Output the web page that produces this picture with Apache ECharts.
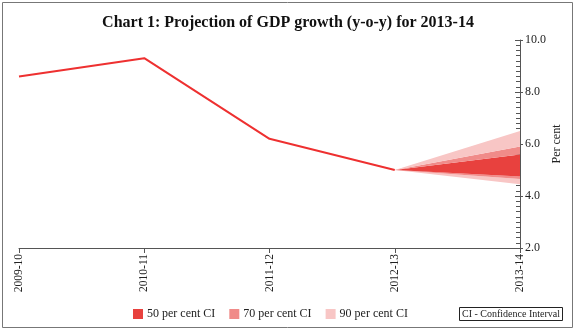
<!DOCTYPE html>
<html><head><meta charset="utf-8">
<script src="https://cdn.jsdelivr.net/npm/echarts@6/dist/echarts.min.js"></script>
<style>html,body{margin:0;padding:0;background:#fff}#c{width:576px;height:334px}</style>
</head><body><div id="c"></div>
<script>
const categories = ['2009-10','2010-11','2011-12','2012-13','2013-14'];
const gdpGrowth = [8.6, 9.3, 6.2, 5.0, null];
// fan chart bounds at 2012-13 (start) and 2013-14 (projection)
const ci90Lower = [null, null, null, 5.0, 4.45];
const ci70Lower = [null, null, null, 5.0, 4.65];
const ci50Lower = [null, null, null, 5.0, 4.75];
const ci50Upper = [null, null, null, 5.0, 5.6];
const ci70Upper = [null, null, null, 5.0, 5.9];
const ci90Upper = [null, null, null, 5.0, 6.5];
const yTicks = [2, 4, 6, 8, 10];

const diff = (a, b) => a.map((v, i) => v == null ? null : +(v - b[i]).toFixed(4));
const FONT = 'Liberation Serif';
const C50 = '#e8413e', C70 = '#f08b89', C90 = '#f8c6c5';

const chart = echarts.init(document.getElementById('c'));
const band = (name, data, color) => ({
  name, type: 'line', stack: 'fan', data, symbol: 'none',
  lineStyle: { width: 0, opacity: 0 }, areaStyle: { color, opacity: 1 },
  itemStyle: { color }, z: 1
});
chart.setOption({
  animation: false,
  title: { text: 'Chart 1: Projection of GDP growth (y-o-y) for 2013-14', left: 'center', top: 10,
    textStyle: { fontFamily: FONT, fontSize: 16, fontWeight: 'bold', color: '#111' } },
  grid: { left: 19, right: 56, top: 40, bottom: 86 },
  legend: {
    left: 133, top: 308, padding: 0, itemWidth: 10, itemHeight: 10, itemGap: 14, icon: 'rect',
    textStyle: { fontFamily: FONT, fontSize: 12, color: '#222', padding: [0, 0, 0, -1] },
    data: ['50 per cent CI', '70 per cent CI', '90 per cent CI'], selectedMode: false
  },
  xAxis: {
    type: 'category', data: categories, boundaryGap: false,
    axisLine: { lineStyle: { color: '#555', width: 1 } },
    axisTick: { show: true, length: 5, lineStyle: { color: '#555' } },
    axisLabel: { rotate: 90, fontFamily: FONT, fontSize: 11.5, color: '#222', margin: 6 },
    splitLine: { show: false }
  },
  yAxis: [{
    type: 'value', position: 'right', min: yTicks[0], max: yTicks[yTicks.length - 1], interval: 2,
    name: 'Per cent', nameLocation: 'middle', nameRotate: 90, nameGap: 31, nameMoveOverlap: false,
    nameTextStyle: { fontFamily: FONT, fontSize: 12, color: '#222' },
    axisLine: { show: true, lineStyle: { color: '#555' } },
    axisTick: { show: true, inside: true, length: 5, lineStyle: { color: '#555' } },
    minorTick: { show: true, splitNumber: 10, length: 4, lineStyle: { color: '#555' } },
    axisLabel: { fontFamily: FONT, fontSize: 12, color: '#222', margin: 5, formatter: v => v.toFixed(1) },
    splitLine: { show: false }
  }, {
    type: 'value', position: 'right', min: yTicks[0], max: yTicks[yTicks.length - 1], interval: 2,
    axisLine: { show: false }, axisLabel: { show: false }, splitLine: { show: false },
    axisTick: { show: true, inside: false, length: 3, lineStyle: { color: '#555' } }
  }],
  series: [
    { name: 'base', type: 'line', stack: 'fan', data: ci90Lower, symbol: 'none', lineStyle: { opacity: 0 }, z: 1 },
    band('90 per cent CI', diff(ci70Lower, ci90Lower), C90),
    band('70 per cent CI', diff(ci50Lower, ci70Lower), C70),
    band('50 per cent CI', diff(ci50Upper, ci50Lower), C50),
    band('70 per cent CI', diff(ci70Upper, ci50Upper), C70),
    band('90 per cent CI', diff(ci90Upper, ci70Upper), C90),
    { name: 'GDP growth', type: 'line', data: gdpGrowth, symbol: 'none',
      lineStyle: { color: '#ee3030', width: 2 }, z: 5 }
  ],
  graphic: [
    { type: 'rect', shape: { x: 2.5, y: 2.5, width: 570, height: 325 }, style: { fill: 'none', stroke: '#777', lineWidth: 1 }, silent: true },
    { type: 'rect', shape: { x: 459.5, y: 307.5, width: 103, height: 13 }, style: { fill: '#fff', stroke: '#222', lineWidth: 1 } },
    { type: 'text', x: 511, y: 314.5, style: { text: 'CI - Confidence Interval', font: '10px "Liberation Serif"', fill: '#222', align: 'center', verticalAlign: 'middle' } }
  ]
});
</script></body></html>
